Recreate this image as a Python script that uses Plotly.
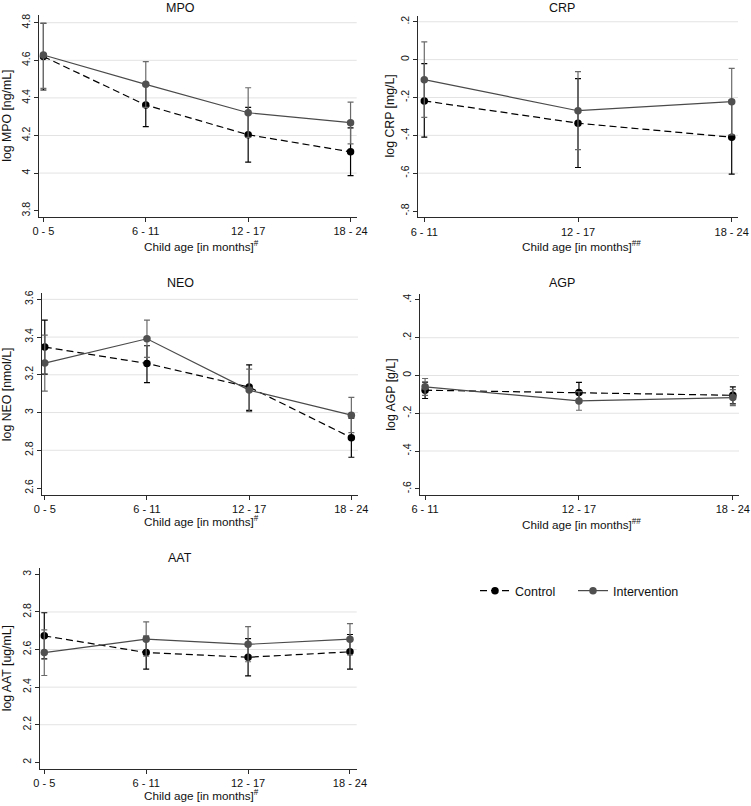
import plotly.graph_objects as go

W, H = 751, 806

# ---------------- data ----------------
cats4 = ["0 - 5", "6 - 11", "12 - 17", "18 - 24"]
cats3 = ["6 - 11", "12 - 17", "18 - 24"]

mpo_control = [4.620, 4.362, 4.204, 4.113]
mpo_control_lo = [4.442, 4.247, 4.058, 3.987]
mpo_control_hi = [4.797, 4.477, 4.350, 4.240]
mpo_interv = [4.628, 4.472, 4.321, 4.268]
mpo_interv_lo = [4.451, 4.350, 4.190, 4.155]
mpo_interv_hi = [4.797, 4.593, 4.454, 4.378]

crp_control = [-0.218, -0.336, -0.410]
crp_control_lo = [-0.410, -0.570, -0.605]
crp_control_hi = [-0.021, -0.100, -0.215]
crp_interv = [-0.106, -0.270, -0.222]
crp_interv_lo = [-0.305, -0.476, -0.398]
crp_interv_hi = [0.094, -0.064, -0.046]

neo_control = [3.347, 3.260, 3.135, 2.867]
neo_control_lo = [3.204, 3.159, 3.011, 2.763]
neo_control_hi = [3.490, 3.354, 3.253, 2.970]
neo_interv = [3.262, 3.391, 3.119, 2.986]
neo_interv_lo = [3.114, 3.292, 3.005, 2.894]
neo_interv_hi = [3.410, 3.490, 3.230, 3.080]

agp_control = [-0.078, -0.090, -0.105]
agp_control_lo = [-0.122, -0.143, -0.150]
agp_control_hi = [-0.035, -0.037, -0.060]
agp_interv = [-0.060, -0.135, -0.117]
agp_interv_lo = [-0.105, -0.184, -0.160]
agp_interv_hi = [-0.016, -0.086, -0.075]

aat_control = [2.673, 2.584, 2.559, 2.588]
aat_control_lo = [2.550, 2.496, 2.460, 2.496]
aat_control_hi = [2.796, 2.672, 2.658, 2.680]
aat_interv = [2.584, 2.655, 2.628, 2.655]
aat_interv_lo = [2.462, 2.565, 2.535, 2.572]
aat_interv_hi = [2.705, 2.747, 2.722, 2.738]

mpo_ticks = [3.8, 4.0, 4.2, 4.4, 4.6, 4.8]
mpo_ticktext = ["3.8", "4", "4.2", "4.4", "4.6", "4.8"]
crp_ticks = [-0.8, -0.6, -0.4, -0.2, 0.0, 0.2]
crp_ticktext = ["-.8", "-.6", "-.4", "-.2", "0", ".2"]
neo_ticks = [2.6, 2.8, 3.0, 3.2, 3.4, 3.6]
neo_ticktext = ["2.6", "2.8", "3", "3.2", "3.4", "3.6"]
agp_ticks = [-0.6, -0.4, -0.2, 0.0, 0.2, 0.4]
agp_ticktext = ["-.6", "-.4", "-.2", "0", ".2", ".4"]
aat_ticks = [2.0, 2.2, 2.4, 2.6, 2.8, 3.0]
aat_ticktext = ["2", "2.2", "2.4", "2.6", "2.8", "3"]

# ---------------- styling ----------------
FONT = "Liberation Sans, Arial, Helvetica, sans-serif"
C_CTRL = "#000000"
C_INT = "#4a4a4a"
C_INT_ERR = "#6a6a6a"
AXC = "#2a2a2a"
GRID = "#e3e3e3"

fig = go.Figure()

panels = [
    dict(name="MPO", cats=cats4, ctrl=mpo_control, clo=mpo_control_lo, chi=mpo_control_hi,
         intv=mpo_interv, ilo=mpo_interv_lo, ihi=mpo_interv_hi,
         ticks=mpo_ticks, ticktext=mpo_ticktext, grid=[4.0, 4.2, 4.4, 4.6, 4.8],
         ylab="log MPO [ng/mL]", sup="#",
         box=(39.3, 356.7, 15.0, 216.7), yr=(3.768, 4.841), xr=(-0.04, 3.06),
         title_x=180, title_y=8, ylab_x=7, xlab_x=197, xlab_y=248),
    dict(name="CRP", cats=cats3, ctrl=crp_control, clo=crp_control_lo, chi=crp_control_hi,
         intv=crp_interv, ilo=crp_interv_lo, ihi=crp_interv_hi,
         ticks=crp_ticks, ticktext=crp_ticktext, grid=[-0.6, -0.4, -0.2, 0.0, 0.2],
         ylab="log CRP [mg/L]", sup="##",
         box=(418.3, 738.0, 15.5, 217.3), yr=(-0.833, 0.233), xr=(-0.039, 2.041),
         title_x=561.5, title_y=8, ylab_x=390, xlab_x=577, xlab_y=248),
    dict(name="NEO", cats=cats4, ctrl=neo_control, clo=neo_control_lo, chi=neo_control_hi,
         intv=neo_interv, ilo=neo_interv_lo, ihi=neo_interv_hi,
         ticks=neo_ticks, ticktext=neo_ticktext, grid=[2.8, 3.0, 3.2, 3.4, 3.6],
         ylab="log NEO [nmol/L]", sup="#",
         box=(41.7, 358.0, 293.3, 495.0), yr=(2.563, 3.632), xr=(-0.03, 3.065),
         title_x=180, title_y=283, ylab_x=7, xlab_x=197, xlab_y=523),
    dict(name="AGP", cats=cats3, ctrl=agp_control, clo=agp_control_lo, chi=agp_control_hi,
         intv=agp_interv, ilo=agp_interv_lo, ihi=agp_interv_hi,
         ticks=agp_ticks, ticktext=agp_ticktext, grid=[-0.4, -0.2, 0.0, 0.2],
         ylab="log AGP [g/L]", sup="##",
         box=(420.0, 739.0, 294.3, 495.0), yr=(-0.633, 0.430), xr=(-0.033, 2.04),
         title_x=561.5, title_y=283, ylab_x=391, xlab_x=577, xlab_y=526),
    dict(name="AAT", cats=cats4, ctrl=aat_control, clo=aat_control_lo, chi=aat_control_hi,
         intv=aat_interv, ilo=aat_interv_lo, ihi=aat_interv_hi,
         ticks=aat_ticks, ticktext=aat_ticktext, grid=[2.2, 2.4, 2.6, 2.8],
         ylab="log AAT [ug/mL]", sup="#",
         box=(40.0, 356.7, 568.0, 768.7), yr=(1.966, 3.034), xr=(-0.042, 3.066),
         title_x=180, title_y=558, ylab_x=7, xlab_x=197, xlab_y=797),
]

annotations = []
shapes = []

for i, p in enumerate(panels):
    k = "" if i == 0 else str(i + 1)
    xa, ya = "x" + k, "y" + k
    x0, x1, y0, y1 = p["box"]
    dom_x = [x0 / W, x1 / W]
    dom_y = [1 - y1 / H, 1 - y0 / H]

    def err(vals, lo, hi):
        return dict(type="data", symmetric=False,
                    array=[h - v for v, h in zip(vals, hi)],
                    arrayminus=[v - l for v, l in zip(vals, lo)],
                    thickness=1.2, width=3)

    e_c = err(p["ctrl"], p["clo"], p["chi"]); e_c["color"] = C_CTRL
    e_i = err(p["intv"], p["ilo"], p["ihi"]); e_i["color"] = C_INT_ERR

    fig.add_trace(go.Scatter(
        x=p["cats"], y=p["ctrl"], mode="lines+markers", name="Control",
        line=dict(color=C_CTRL, width=1.2, dash="7px,4px"),
        marker=dict(color=C_CTRL, size=7.5, symbol="circle", line=dict(width=0)),
        error_y=e_c, xaxis=xa, yaxis=ya, showlegend=(i == 0), legend="legend",
        hoverinfo="skip"))
    fig.add_trace(go.Scatter(
        x=p["cats"], y=p["intv"], mode="lines+markers", name="Intervention",
        line=dict(color=C_INT, width=1.2),
        marker=dict(color="#505050", size=7.5, symbol="circle", line=dict(width=0)),
        error_y=e_i, xaxis=xa, yaxis=ya, showlegend=(i == 0), legend="legend2",
        hoverinfo="skip"))

    fig.update_layout(**{
        ("xaxis" + k): dict(domain=dom_x, anchor=ya, type="category",
                            categoryorder="array", categoryarray=p["cats"],
                            range=list(p["xr"]), showgrid=False, zeroline=False,
                            showline=True, linecolor=AXC, linewidth=1,
                            ticks="outside", ticklen=4, tickcolor=AXC, tickwidth=1,
                            tickfont=dict(family=FONT, size=11, color="#111"),
                            automargin=False, fixedrange=True),
        ("yaxis" + k): dict(domain=dom_y, anchor=xa, range=list(p["yr"]),
                            tickvals=p["ticks"], ticktext=p["ticktext"],
                            tickangle=-90, showgrid=False, zeroline=False,
                            showline=True, linecolor=AXC, linewidth=1,
                            ticks="outside", ticklen=4, tickcolor=AXC, tickwidth=1,
                            tickfont=dict(family=FONT, size=10.5, color="#111"),
                            automargin=False, fixedrange=True),
    })

    for g in p["grid"]:
        shapes.append(dict(type="line", xref=xa + " domain", yref=ya,
                           x0=0, x1=1, y0=g, y1=g, layer="below",
                           line=dict(color=GRID, width=1)))

    annotations.append(dict(text=p["name"], x=p["title_x"] / W, y=1 - p["title_y"] / H,
                            xref="paper", yref="paper", showarrow=False,
                            xanchor="center", yanchor="middle",
                            font=dict(family=FONT, size=12.5, color="#111")))
    annotations.append(dict(text=p["ylab"], x=p["ylab_x"] / W,
                            y=1 - ((y0 + y1) / 2) / H,
                            xref="paper", yref="paper", showarrow=False, textangle=-90,
                            xanchor="center", yanchor="middle",
                            font=dict(family=FONT, size=12.3, color="#111")))
    annotations.append(dict(text="Child age [in months]<sup>" + p["sup"] + "</sup>",
                            x=(p["xlab_x"] + 4) / W, y=1 - (p["xlab_y"] - 2) / H,
                            xref="paper", yref="paper", showarrow=False,
                            xanchor="center", yanchor="middle",
                            font=dict(family=FONT, size=11.7, color="#111")))

legend_style = dict(orientation="h", xanchor="left", yanchor="top",
                    font=dict(family=FONT, size=12.5, color="#111"),
                    bgcolor="rgba(0,0,0,0)", tracegroupgap=0)

fig.update_layout(
    template="none",
    width=W, height=H, margin=dict(l=0, r=0, t=0, b=0, autoexpand=False),
    paper_bgcolor="white", plot_bgcolor="white",
    annotations=annotations, shapes=shapes,
    showlegend=True,
    legend=dict(x=475 / W, y=1 - 576 / H, **legend_style),
    legend2=dict(x=573 / W, y=1 - 576 / H, **legend_style),
)

fig.write_html("out.html", config={"displayModeBar": False},
               post_script="document.body.style.margin='0';document.body.style.overflow='hidden';")
